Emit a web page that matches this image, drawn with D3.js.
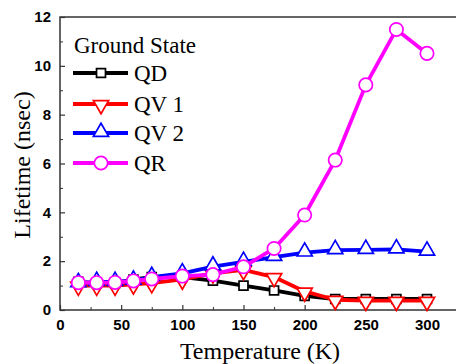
<!DOCTYPE html>
<html>
<head>
<meta charset="utf-8">
<script src="https://cdn.jsdelivr.net/npm/d3@7"></script>
<style>
  body { margin: 0; background: #fff; }
  svg { display: block; }
  .tick text { font-family: "Liberation Sans", Arial, sans-serif; font-weight: bold; font-size: 15px; fill: #000; }
</style>
</head>
<body>
<div id="chartDiv"></div>
<script>
// temperatures (K) and lifetimes (nsec)
var temps = [15, 30, 45, 60, 75, 100, 125, 150, 175, 200, 225, 250, 275, 300];
var qd  = [1.15, 1.1, 1.1, 1.25, 1.35, 1.35, 1.2, 1.0, 0.8, 0.58, 0.45, 0.45, 0.45, 0.45];
var qv1 = [1.0, 1.0, 1.0, 1.05, 1.1, 1.25, 1.5, 1.64, 1.35, 0.76, 0.42, 0.38, 0.38, 0.38];
var qv2 = [1.1, 1.15, 1.15, 1.2, 1.35, 1.5, 1.78, 1.97, 2.17, 2.35, 2.45, 2.46, 2.48, 2.39];
var qr  = [1.12, 1.12, 1.13, 1.19, 1.27, 1.39, 1.45, 1.77, 2.52, 3.89, 6.14, 9.22, 11.49, 10.51];

var seriesNames = ["QD", "QV 1", "QV 2", "QR"];
var seriesColors = ["#000000", "#ff0000", "#0000ff", "#ff00ff"];
var seriesSymbols = ["square", "down", "up", "circle"];
var xTicks = [0, 50, 100, 150, 200, 250, 300];
var yTicks = [0, 2, 4, 6, 8, 10, 12];

var svg = d3.select("#chartDiv").append("svg")
    .attr("width", 456)
    .attr("height", 364);

var margin = {top: 17, left: 60, bottom: 54};

var x_scale = d3.scaleLinear().domain([0, 325]).range([margin.left, margin.left + 325 * 1.2233]);
var y_scale = d3.scaleLinear().domain([0, 12]).range([310, margin.top]);

var serif = "'Liberation Serif', 'Times New Roman', serif";

// frame (top, left, bottom); right edge is cropped off
svg.append("path")
    .attr("d", "M" + x_scale(325) + "," + y_scale(12) + "H" + x_scale(0) + "V" + y_scale(0) + "H" + x_scale(325))
    .attr("fill", "none").attr("stroke", "#333").attr("stroke-width", 1.5);

// x axis, inward ticks
var xMinor = d3.range(25, 325, 50);
svg.append("g").attr("transform", "translate(0," + y_scale(0) + ")")
    .call(d3.axisBottom(x_scale).tickValues(xMinor).tickSizeInner(-3).tickSizeOuter(0).tickFormat(""))
    .call(function(g) { g.select(".domain").remove(); g.selectAll("line").attr("stroke", "#333"); });
svg.append("g").attr("transform", "translate(0," + y_scale(0) + ")")
    .call(d3.axisBottom(x_scale).tickValues(xTicks).tickSizeInner(-5).tickSizeOuter(0).tickPadding(9))
    .call(function(g) { g.select(".domain").remove(); g.selectAll("line").attr("stroke", "#333").attr("stroke-width", 1.2); });

// y axis, inward ticks
var yMinor = d3.range(1, 12, 2);
svg.append("g").attr("transform", "translate(" + x_scale(0) + ",0)")
    .call(d3.axisLeft(y_scale).tickValues(yMinor).tickSizeInner(-3).tickSizeOuter(0).tickFormat(""))
    .call(function(g) { g.select(".domain").remove(); g.selectAll("line").attr("stroke", "#333"); });
svg.append("g").attr("transform", "translate(" + x_scale(0) + ",0)")
    .call(d3.axisLeft(y_scale).tickValues(yTicks).tickSizeInner(-5).tickSizeOuter(0).tickPadding(9))
    .call(function(g) { g.select(".domain").remove(); g.selectAll("line").attr("stroke", "#333").attr("stroke-width", 1.2); });

// axis titles
svg.append("text")
    .attr("x", 260).attr("y", 359)
    .attr("text-anchor", "middle")
    .style("font-family", serif)
    .style("font-size", "24px")
    .text("Temperature (K)");

svg.append("text")
    .attr("transform", "translate(30,165) rotate(-90)")
    .attr("text-anchor", "middle")
    .style("font-family", serif)
    .style("font-size", "24px")
    .text("Lifetime (nsec)");

function symbolPath(kind) {
  if (kind == "square") return d3.symbol().type(d3.symbolSquare).size(80)();
  if (kind == "circle") return d3.symbol().type(d3.symbolCircle).size(140)();
  return d3.symbol().type(d3.symbolTriangle).size(100)();
}
function symbolRot(kind) { return kind == "down" ? " rotate(180)" : ""; }
function symbolDy(kind) { return kind == "down" ? 1 : (kind == "up" ? -1 : 0); }

var allSeries = [qd, qv1, qv2, qr];
var line = d3.line()
    .x(function(d, i) { return x_scale(temps[i]); })
    .y(function(d) { return y_scale(d); });

allSeries.forEach(function(vals, k) {
  var g = svg.append("g");
  g.append("path")
      .attr("d", line(vals))
      .attr("fill", "none")
      .attr("stroke", seriesColors[k])
      .attr("stroke-width", 3.8)
      .attr("stroke-linejoin", "round");
  g.selectAll(".pt").data(vals).enter().append("path")
      .attr("class", "pt")
      .attr("d", symbolPath(seriesSymbols[k]))
      .attr("transform", function(d, i) {
        return "translate(" + x_scale(temps[i]) + "," + (y_scale(d) + symbolDy(seriesSymbols[k])) + ")" + symbolRot(seriesSymbols[k]);
      })
      .attr("fill", "#fff")
      .attr("stroke", seriesColors[k])
      .attr("stroke-width", 1.7);
});

// legend
var legend = svg.append("g");
legend.append("text")
    .attr("x", 74).attr("y", 53)
    .style("font-family", serif)
    .style("font-size", "23px")
    .text("Ground State");

var legY = [73, 104, 133, 163];
seriesNames.forEach(function(name, k) {
  var row = legend.append("g").attr("transform", "translate(0," + legY[k] + ")");
  row.append("line").attr("x1", 73).attr("x2", 128).attr("y1", 0).attr("y2", 0)
      .attr("stroke", seriesColors[k]).attr("stroke-width", 3.8);
  row.append("path")
      .attr("d", symbolPath(seriesSymbols[k]))
      .attr("transform", "translate(101," + symbolDy(seriesSymbols[k]) + ")" + symbolRot(seriesSymbols[k]))
      .attr("fill", "#fff").attr("stroke", seriesColors[k]).attr("stroke-width", 1.7);
  row.append("text")
      .attr("x", 134).attr("y", 8)
      .style("font-family", serif)
      .style("font-size", "23px")
      .text(name);
});
</script>
</body>
</html>
